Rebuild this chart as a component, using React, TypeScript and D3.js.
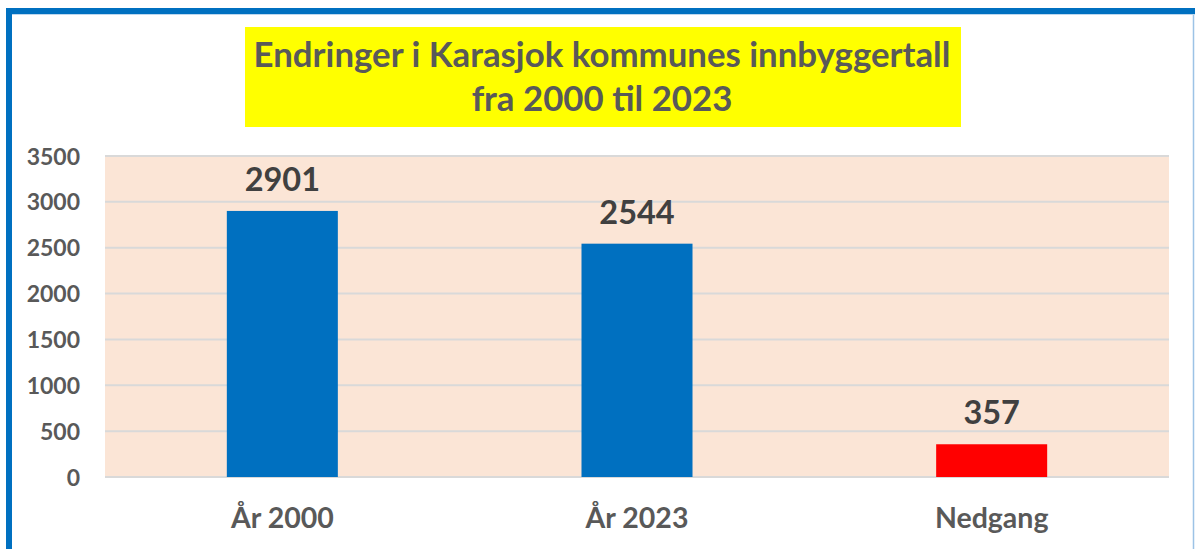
import React from "react";
import * as d3 from "d3";

const categories = ["År 2000", "År 2023", "Nedgang"];
const values = [2901, 2544, 357];
const barColors = ["#0070C0", "#0070C0", "#FF0000"];
const yTicks = [0, 500, 1000, 1500, 2000, 2500, 3000, 3500];
const titleLines = ["Endringer i Karasjok kommunes innbyggertall", "fra 2000 til 2023"];

const W = 1195;
const H = 549;
const plot = { left: 105, right: 1169, top: 156, bottom: 477 };
const font = "Lato, 'Open Sans', sans-serif";

export default function App() {
  const x = d3
    .scaleBand<string>()
    .domain(categories)
    .range([plot.left, plot.right])
    .paddingInner(0.687)
    .paddingOuter(0.3435);
  const y = d3.scaleLinear().domain([0, 3500]).range([plot.bottom, plot.top]);

  return (
    <svg
      width={W}
      height={H}
      style={{ position: "absolute", left: 0, top: 0, background: "#fff" }}
    >
      <rect x={0} y={0} width={W} height={H} fill="#fff" />
      {/* frame */}
      <line x1={1193.5} y1={8} x2={1193.5} y2={H} stroke="#9DC3E6" strokeWidth={1.5} />
      <line x1={12} y1={14.5} x2={W} y2={14.5} stroke="#BDD7EE" strokeWidth={1} />
      <rect x={6} y={8} width={W - 6} height={6} fill="#0070C0" />
      <rect x={6} y={8} width={6} height={H - 8} fill="#0070C0" />

      {/* title */}
      <rect x={245} y={27} width={716} height={100} fill="#FFFF00" />
      {titleLines.map((t, i) => (
        <text
          key={i}
          x={602}
          y={67 + i * 44}
          textAnchor="middle"
          fontFamily={font}
          fontWeight="bold"
          fontSize={34.8}
          fill="#595959"
        >
          {t}
        </text>
      ))}

      {/* plot area */}
      <rect
        x={plot.left}
        y={plot.top}
        width={plot.right - plot.left}
        height={plot.bottom - plot.top}
        fill="#FBE5D6"
      />
      {yTicks.map((t) => (
        <line
          key={t}
          x1={plot.left}
          x2={plot.right}
          y1={y(t)}
          y2={y(t)}
          stroke="#D9D9D9"
          strokeWidth={2}
        />
      ))}
      {yTicks.map((t) => (
        <text
          key={"l" + t}
          x={80}
          y={y(t) + 8.5}
          textAnchor="end"
          fontFamily={font}
          fontWeight="bold"
          fontSize={23}
          fill="#595959"
        >
          {t}
        </text>
      ))}

      {/* bars */}
      {categories.map((c, i) => (
        <rect
          key={c}
          x={x(c)}
          y={y(values[i])}
          width={x.bandwidth()}
          height={y(0) - y(values[i])}
          fill={barColors[i]}
        />
      ))}
      {categories.map((c, i) => (
        <text
          key={"v" + c}
          x={(x(c) as number) + x.bandwidth() / 2}
          y={y(values[i]) - 20}
          textAnchor="middle"
          fontFamily={font}
          fontWeight="bold"
          fontSize={32.5}
          fill="#404040"
        >
          {values[i]}
        </text>
      ))}
      {categories.map((c) => (
        <text
          key={"c" + c}
          x={(x(c) as number) + x.bandwidth() / 2}
          y={528}
          textAnchor="middle"
          fontFamily={font}
          fontWeight="bold"
          fontSize={28.5}
          fill="#595959"
        >
          {c}
        </text>
      ))}
    </svg>
  );
}
